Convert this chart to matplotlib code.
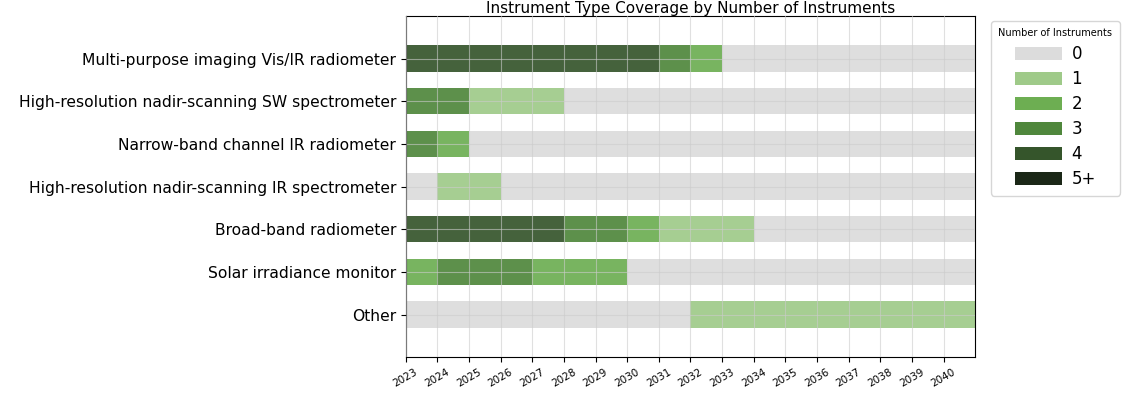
import matplotlib
matplotlib.use("Agg")
import matplotlib.pyplot as plt
from matplotlib.patches import Patch
import numpy as np

# Dados
anos = list(range(2023, 2041))
categorias = [
    "Multi-purpose imaging Vis/IR radiometer",
    "High-resolution nadir-scanning SW spectrometer",
    "Narrow-band channel IR radiometer",
    "High-resolution nadir-scanning IR spectrometer",
    "Broad-band radiometer",
    "Solar irradiance monitor",
    "Other",
]
# numero de instrumentos por ano (2023..2040)
multi_purpose = [4, 4, 4, 4, 4, 4, 4, 4, 3, 2, 0, 0, 0, 0, 0, 0, 0, 0]
sw_spectrometer = [3, 3, 1, 1, 1, 0, 0, 0, 0, 0, 0, 0, 0, 0, 0, 0, 0, 0]
narrow_band = [3, 2, 0, 0, 0, 0, 0, 0, 0, 0, 0, 0, 0, 0, 0, 0, 0, 0]
ir_spectrometer = [0, 1, 1, 0, 0, 0, 0, 0, 0, 0, 0, 0, 0, 0, 0, 0, 0, 0]
broad_band = [4, 4, 4, 4, 4, 3, 3, 2, 1, 1, 1, 0, 0, 0, 0, 0, 0, 0]
solar_irradiance = [2, 3, 3, 3, 2, 2, 2, 0, 0, 0, 0, 0, 0, 0, 0, 0, 0, 0]
outros = [0, 0, 0, 0, 0, 0, 0, 0, 0, 1, 1, 1, 1, 1, 1, 1, 1, 1]

niveis = ["0", "1", "2", "3", "4", "5+"]
cores = ["#dcdcdc", "#9fca89", "#6dae52", "#4f873c", "#35552b", "#1b2717"]

contagens = [multi_purpose, sw_spectrometer, narrow_band, ir_spectrometer,
             broad_band, solar_irradiance, outros]

fig, ax = plt.subplots(figsize=(11.3, 3.96), dpi=100)
fig.subplots_adjust(left=0.359, right=0.863, top=0.96, bottom=0.098)

for i, linha in enumerate(contagens):
    for ano, n in zip(anos, linha):
        cor = cores[min(n, 5)]
        ax.barh(i, 1, left=ano, height=0.62, color=cor, alpha=0.92,
                edgecolor="none", zorder=2)

ax.set_yticks(range(len(categorias)))
ax.set_yticklabels(categorias, fontsize=11.2)
ax.set_ylim(len(categorias), -1)
ax.set_xlim(2023, 2041)
ax.set_xticks(anos)
ax.set_xticklabels([str(a) for a in anos], rotation=30, fontsize=7.5)
ax.grid(True, color="#cccccc", linewidth=0.8, alpha=0.6, zorder=3)
ax.set_axisbelow(False)

ax.set_title("Instrument Type Coverage by Number of Instruments", fontsize=11, pad=2)

handles = [Patch(facecolor=c, edgecolor="none") for c in cores]
leg = ax.legend(handles, niveis, title="Number of Instruments", loc="upper left",
                bbox_to_anchor=(1.013, 1.01), fontsize=12, title_fontsize=7,
                handlelength=2.8, handleheight=0.75, borderpad=0.45,
                labelspacing=0.42, handletextpad=0.6)

plt.savefig("out.png", dpi=100)
